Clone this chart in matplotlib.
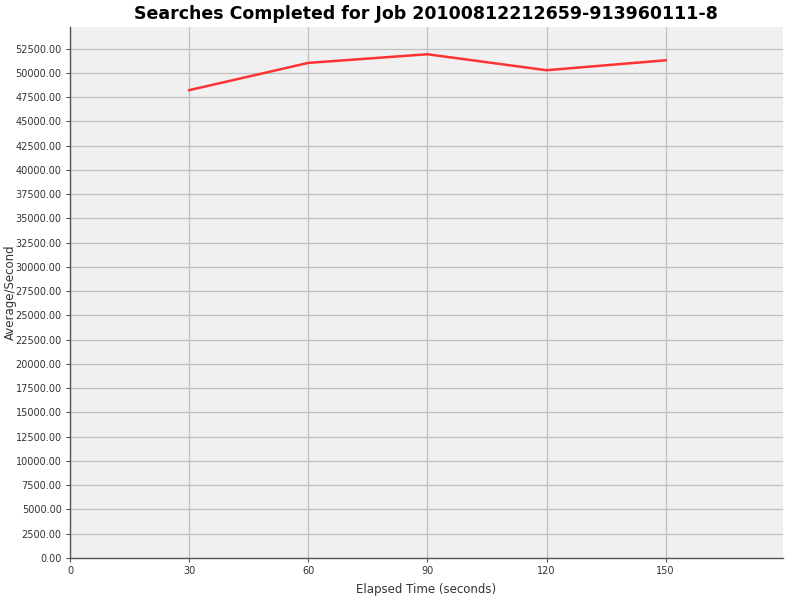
import matplotlib
matplotlib.use("Agg")
import matplotlib.pyplot as plt
from matplotlib.ticker import MultipleLocator, FormatStrFormatter, FixedLocator

elapsed = [30, 60, 90, 120, 150]
avg_per_sec = [48220, 51030, 51920, 50275, 51300]
x_ticks = [0, 30, 60, 90, 120, 150]

fig = plt.figure(figsize=(8, 6), dpi=100)
fig.patch.set_facecolor("white")
ax = fig.add_axes([0.0875, 0.07, 0.891, 0.885])
ax.set_facecolor("#F0F0F0")

ax.plot(elapsed, avg_per_sec, color="#FF3333", linewidth=1.8, zorder=3)

ax.set_xlim(0, 179.5)
ax.set_ylim(0, 54730)
ax.xaxis.set_major_locator(FixedLocator(x_ticks))
ax.yaxis.set_major_locator(MultipleLocator(2500))
ax.yaxis.set_major_formatter(FormatStrFormatter("%.2f"))

ax.grid(True, color="#C0C0C0", linewidth=0.9)
ax.set_axisbelow(True)
for s in ["top", "right"]:
    ax.spines[s].set_visible(False)
for s in ["left", "bottom"]:
    ax.spines[s].set_color("#555555")
    ax.spines[s].set_linewidth(1.0)
ax.tick_params(axis="both", direction="out", length=3, color="#555555",
               labelsize=7, labelcolor="#333333", pad=3)

fig.text(0.533, 0.017, "Elapsed Time (seconds)", ha="center", va="center",
         fontsize=8.5, color="#333333")
fig.text(0.013, 0.513, "Average/Second", ha="center", va="center",
         rotation=90, fontsize=8.5, color="#333333")
fig.text(0.533, 0.977, "Searches Completed for Job 20100812212659-913960111-8",
         ha="center", va="center", fontsize=12.5, fontweight="bold", color="black")

fig.savefig("out.png", dpi=100)
